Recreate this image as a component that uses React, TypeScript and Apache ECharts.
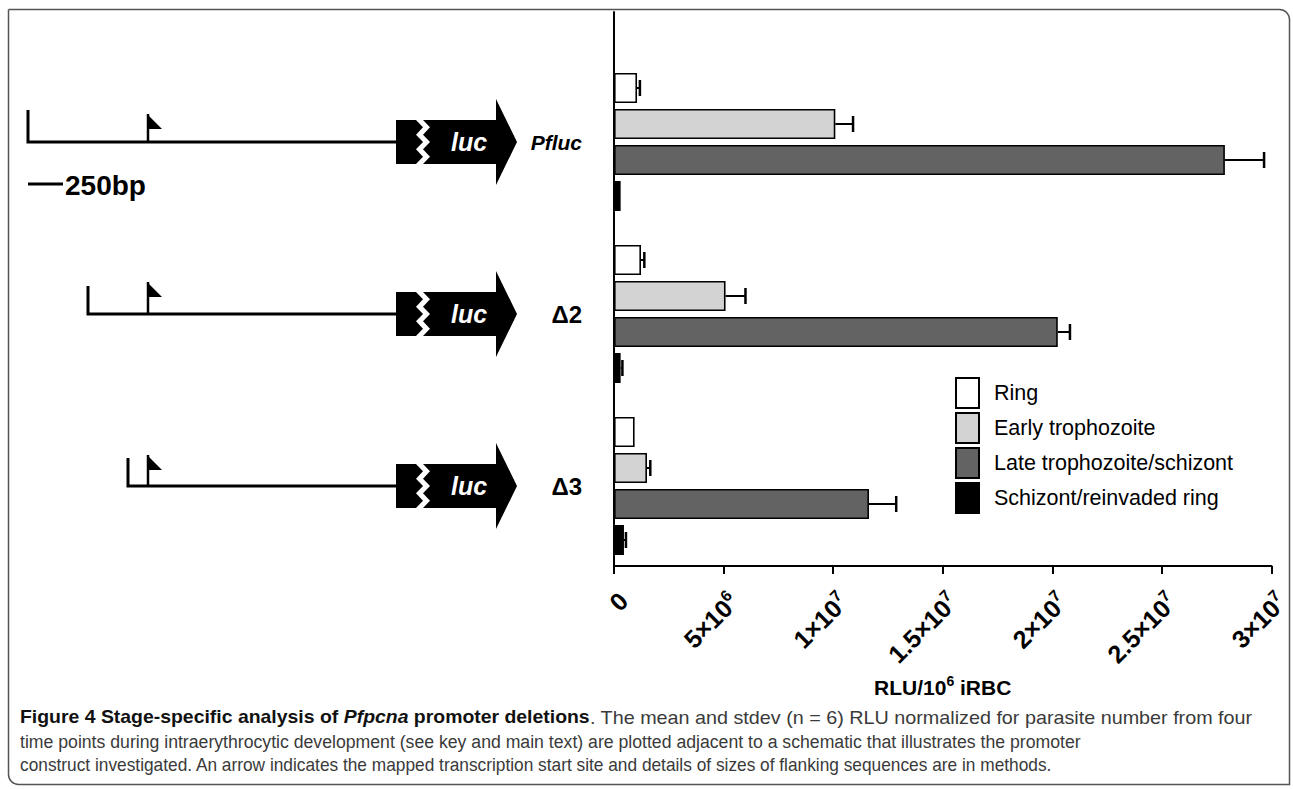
import React, { useEffect, useRef } from 'react';
import * as echarts from 'echarts';

const constructs = ['Pfluc', 'Δ2', 'Δ3'];
const stages = ['Ring', 'Early trophozoite', 'Late trophozoite/schizont', 'Schizont/reinvaded ring'];
const ringMean = [1.04e6, 1.22e6, 0.93e6];
const ringSd = [0.13e6, 0.15e6, 0];
const earlyMean = [1.0e7, 5.04e6, 1.49e6];
const earlySd = [0.08e7, 0.9e6, 0.15e6];
const lateMean = [2.76e7, 2.005e7, 1.152e7];
const lateSd = [0.177e7, 0.055e7, 0.123e7];
const schizMean = [0.3e6, 0.3e6, 0.45e6];
const schizSd = [0, 0.08e6, 0.09e6];
const stageColors = ['#ffffff', '#d3d3d3', '#636363', '#000000'];
const xTicks = [0, 5e6, 1e7, 1.5e7, 2e7, 2.5e7, 3e7];
const xTickMantissa = ['0', '5×10', '1×10', '1.5×10', '2×10', '2.5×10', '3×10'];
const xTickExponent = ['', '6', '7', '7', '7', '7', '7'];
const captionBoldA = 'Figure 4 Stage-specific analysis of ';
const captionItalic = 'Pfpcna';
const captionBoldB = ' promoter deletions';
const captionRest1 = '. The mean and stdev (n = 6) RLU normalized for parasite number from four';
const captionLine2 = 'time points during intraerythrocytic development (see key and main text) are plotted adjacent to a schematic that illustrates the promoter';
const captionLine3 = 'construct investigated. An arrow indicates the mapped transcription start site and details of sizes of flanking sequences are in methods.';

const means = [ringMean, earlyMean, lateMean, schizMean];
const sds = [ringSd, earlySd, lateSd, schizSd];

const FONT = '"Liberation Sans", Arial, Helvetica, sans-serif';
const CAPSIZE = 19;

const BAR_W = 30;
const BAR_STEP = 36;

export default function App() {
  const ref = useRef<HTMLDivElement>(null);
  useEffect(() => {
    document.body.style.margin = '0';
    const chart = echarts.init(ref.current!, undefined, { renderer: 'svg' });
    const barSeries = stages.map((s, i) => ({
      type: 'bar',
      name: s,
      xAxisIndex: 1,
      yAxisIndex: 1,
      data: means[i],
      barWidth: BAR_W,
      barGap: '20%',
      itemStyle: { color: stageColors[i], borderColor: '#000', borderWidth: 1.6 },
      z: 2,
    }));
    const errSeries = stages.map((s, i) => ({
      type: 'custom',
      name: s + ' sd',
      xAxisIndex: 1,
      yAxisIndex: 1,
      data: constructs.map((c, j) => [means[i][j], j, sds[i][j]]),
      encode: { x: 0, y: 1 },
      z: 3,
      renderItem: (params: any, api: any) => {
        const m = api.value(0);
        const cat = api.value(1);
        const sd = api.value(2);
        if (!sd) return null;
        const p0 = api.coord([m, cat]);
        const p1 = api.coord([m + sd, cat]);
        const y = p0[1] + (i - 1.5) * BAR_STEP;
        return {
          type: 'group',
          children: [
            { type: 'line', shape: { x1: p0[0], y1: y, x2: p1[0], y2: y }, style: { stroke: '#000', lineWidth: 2 } },
            { type: 'line', shape: { x1: p1[0], y1: y - 8, x2: p1[0], y2: y + 8 }, style: { stroke: '#000', lineWidth: 2.5 } },
          ],
        };
      },
    }));

    const option: any = {
      animation: false,
      textStyle: { fontFamily: FONT },
      grid: [
        { left: 614, top: 12, width: 664, height: 554 },
        { left: 614, top: 56, width: 664, height: 516 },
      ],
      legend: {
        data: stages,
        orient: 'vertical',
        left: 955,
        top: 377,
        padding: 0,
        itemWidth: 23,
        itemHeight: 30,
        itemGap: 3,
        icon: 'rect',
        selectedMode: false,
        textStyle: { fontSize: 21.5, color: '#000', fontFamily: FONT, padding: [0, 0, 0, 10] },
      },
      xAxis: [
        {
          gridIndex: 0,
          type: 'value',
          min: 0,
          max: 3e7,
          interval: 5e6,
          axisLine: { show: true, onZero: false, lineStyle: { color: '#000', width: 2 } },
          axisTick: { show: true, length: 8, lineStyle: { color: '#000', width: 2 } },
          splitLine: { show: false },
          axisLabel: {
            rotate: 45,
            margin: 21,
            verticalAlign: 'top',
            fontSize: 25,
            fontWeight: 'bold',
            color: '#000',
            fontFamily: FONT,
            formatter: (v: number) => {
              const k = xTicks.indexOf(v);
              if (k < 0) return '';
              return xTickExponent[k] ? `{m|${xTickMantissa[k]}}{s|${xTickExponent[k]}}` : `{m|${xTickMantissa[k]}}`;
            },
            rich: {
              m: { fontSize: 25, fontWeight: 'bold', color: '#000', fontFamily: FONT, lineHeight: 27 },
              s: { fontSize: 16, fontWeight: 'bold', color: '#000', fontFamily: FONT, padding: [0, 0, 14, 0] },
            },
          },
          name: '{m|RLU/10}{s|6}{m| iRBC}',
          nameLocation: 'middle',
          nameGap: 108,
          nameTextStyle: {
            fontSize: 21,
            fontWeight: 'bold',
            fontFamily: FONT,
            color: '#000',
            rich: {
              m: { fontSize: 21, fontWeight: 'bold', color: '#000', fontFamily: FONT, lineHeight: 24 },
              s: { fontSize: 14, fontWeight: 'bold', color: '#000', fontFamily: FONT, padding: [0, 0, 12, 0] },
            },
          },
        },
        { gridIndex: 1, type: 'value', min: 0, max: 3e7, show: false },
      ],
      yAxis: [
        {
          gridIndex: 0,
          type: 'value',
          min: 0,
          max: 1,
          axisLine: { show: true, onZero: false, lineStyle: { color: '#000', width: 2 } },
          axisTick: { show: false },
          axisLabel: { show: false },
          splitLine: { show: false },
        },
        {
          gridIndex: 1,
          type: 'category',
          inverse: true,
          data: constructs,
          axisLine: { show: false },
          axisTick: { show: false },
          splitLine: { show: false },
          axisLabel: {
            margin: 32,
            fontSize: 21,
            fontWeight: 'bold',
            fontFamily: FONT,
            color: '#000',
            formatter: (v: string) => (v === 'Pfluc' ? `{i|${v}}` : `{b|${v}}`),
            rich: {
              i: { fontSize: 21, fontWeight: 'bold', fontStyle: 'italic', color: '#000', fontFamily: FONT },
              b: { fontSize: 24, fontWeight: 'bold', color: '#000', fontFamily: FONT },
            },
          },
        },
      ],
      series: [...barSeries, ...errSeries],
    };
    chart.setOption(option);

    // caption: horizontally condensed segments, to mimic the narrow caption face
    const fontReg = `${CAPSIZE}px "Liberation Sans"`;
    const fontBold = `bold ${CAPSIZE}px "Liberation Sans"`;
    const fontBI = `italic bold ${CAPSIZE}px "Liberation Sans"`;
    let sBold = 0.86, sRest1 = 0.86, s2 = 0.86, s3 = 0.86;
    try {
      const ctx = document.createElement('canvas').getContext('2d')!;
      const w = (f: string, t: string) => {
        ctx.font = f;
        return ctx.measureText(t).width;
      };
      const wb = w(fontBold, captionBoldA) + w(fontBI, captionItalic) + w(fontBold, captionBoldB);
      sBold = 570 / wb;
      sRest1 = 663 / w(fontReg, captionRest1);
      s2 = 1062 / w(fontReg, captionLine2);
      s3 = 1033 / w(fontReg, captionLine3);
    } catch (e) {
      /* keep defaults */
    }
    const capText = (x: number, y: number, sx: number, text: string, rich: any) => ({
      type: 'text',
      x,
      y,
      scaleX: sx,
      style: { text, fontFamily: FONT, fontSize: CAPSIZE, fill: '#3a3a3a', verticalAlign: 'middle', rich },
    });
    const capRich = {
      b: { fontSize: CAPSIZE, fontWeight: 'bold', fill: '#111', fontFamily: FONT },
      bi: { fontSize: CAPSIZE, fontWeight: 'bold', fontStyle: 'italic', fill: '#111', fontFamily: FONT },
      r: { fontSize: CAPSIZE, fill: '#3a3a3a', fontFamily: FONT },
    };

    const rowYs = constructs.map((c) => chart.convertToPixel({ yAxisIndex: 1 }, c) as number);
    const rowStart = [28, 88, 128];
    const tickH = [32, 28, 28];
    const poleH = [28, 32, 31];
    const graphics: any[] = [
      {
        type: 'rect',
        shape: { x: 8.5, y: 9.5, width: 1281, height: 775, r: [0, 10, 0, 10] },
        style: { fill: 'none', stroke: '#555', lineWidth: 1.5 },
        z: 0,
      },
      { type: 'line', shape: { x1: 28, y1: 184, x2: 63, y2: 184 }, style: { stroke: '#000', lineWidth: 3 } },
      {
        type: 'text',
        x: 65,
        y: 185,
        style: { text: '250bp', fontSize: 28, fontWeight: 'bold', fill: '#000', fontFamily: FONT, verticalAlign: 'middle' },
      },
      capText(20, 717, sBold, `{b|${captionBoldA}}{bi|${captionItalic}}{b|${captionBoldB}}`, capRich),
      capText(590, 717, sRest1, `{r|${captionRest1}}`, capRich),
      capText(20, 741, s2, `{r|${captionLine2}}`, capRich),
      capText(20, 765, s3, `{r|${captionLine3}}`, capRich),
    ];
    const zig = (cy: number, x0: number, amp: number) => {
      const pts: number[][] = [];
      for (let k = 0; k <= 6; k++) pts.push([x0 + (k % 2 ? amp : 0), cy - 22 + (k * 44) / 6]);
      return pts;
    };
    rowYs.forEach((cy, r) => {
      graphics.push(
        {
          type: 'polyline',
          shape: { points: [[rowStart[r], cy - tickH[r]], [rowStart[r], cy], [400, cy]] },
          style: { stroke: '#000', lineWidth: 3, fill: 'none' },
        },
        { type: 'line', shape: { x1: 148, y1: cy, x2: 148, y2: cy - poleH[r] }, style: { stroke: '#000', lineWidth: 2.5 } },
        {
          type: 'polygon',
          shape: { points: [[147, cy - poleH[r]], [162, cy - poleH[r] + 15], [147, cy - poleH[r] + 15]] },
          style: { fill: '#000' },
        },
        {
          type: 'polygon',
          shape: { points: [[396, cy - 22], ...zig(cy, 416, 7), [396, cy + 22]] },
          style: { fill: '#000' },
        },
        {
          type: 'polygon',
          shape: {
            points: [...zig(cy, 423, 7), [496, cy + 22], [496, cy + 43], [517, cy], [496, cy - 43], [496, cy - 22]],
          },
          style: { fill: '#000' },
        },
        {
          type: 'text',
          x: 469,
          y: cy,
          style: {
            text: 'luc',
            fontSize: 25,
            fontWeight: 'bold',
            fontStyle: 'italic',
            fill: '#fff',
            fontFamily: FONT,
            align: 'center',
            verticalAlign: 'middle',
          },
        }
      );
    });
    chart.setOption({ graphic: graphics });
    return () => chart.dispose();
  }, []);
  return <div ref={ref} style={{ width: 1293, height: 789 }} />;
}
